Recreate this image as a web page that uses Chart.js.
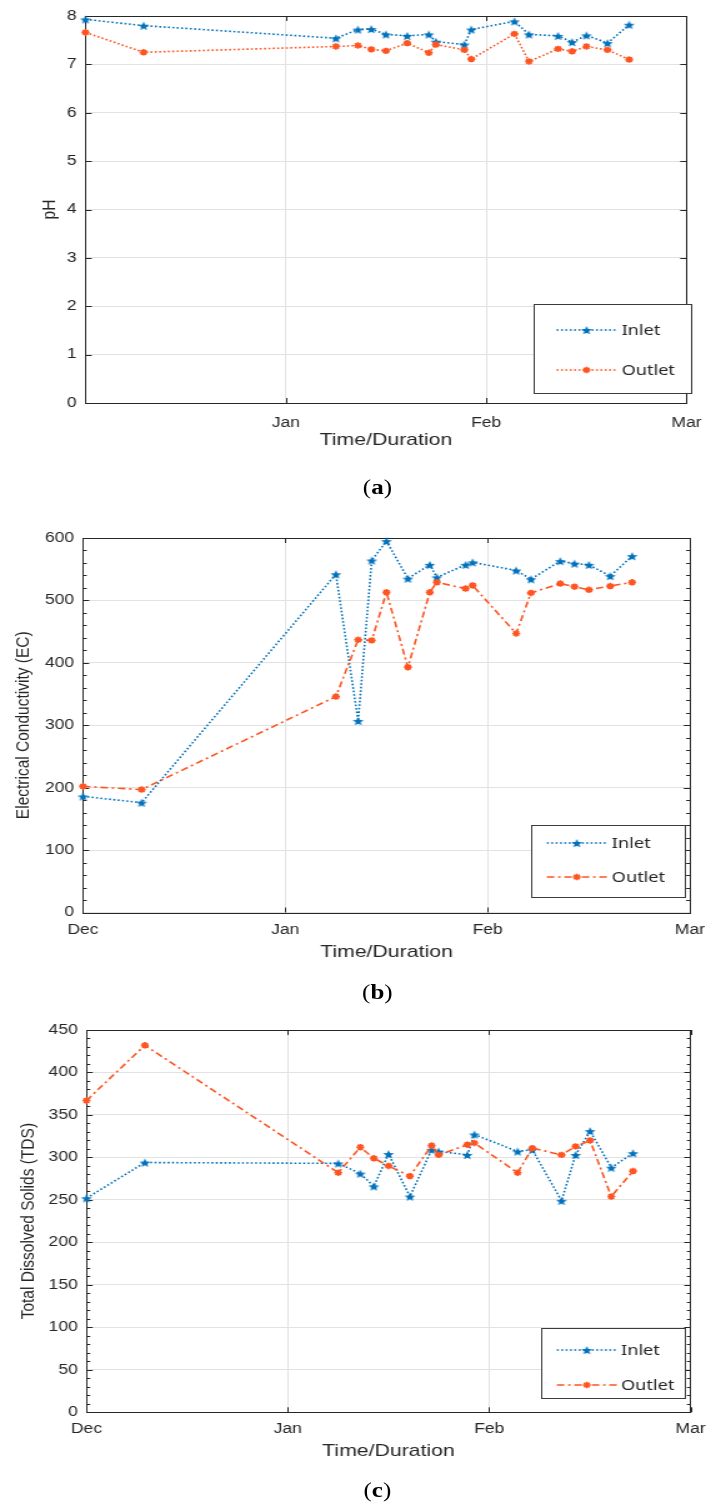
<!DOCTYPE html>
<html>
<head>
<meta charset="utf-8">
<title>Inlet / Outlet water quality</title>
<script src="https://cdn.jsdelivr.net/npm/chart.js@4.4.1/dist/chart.umd.min.js"></script>
<style>
  html, body { margin: 0; padding: 0; background: #fff; }
  body { width: 716px; height: 1504px; overflow: hidden; position: relative; }
  /* the reference figure is stretched sideways, so draw narrow and scale up */
  #figure { position: absolute; left: 0; top: 0; width: 573px; height: 1504px;
            transform: scaleX(1.2496); transform-origin: 0 0; }
  .panel { position: absolute; left: 0; width: 573px; height: 460px; }
  .caption { position: absolute; width: 100px; text-align: center; color: #000;
             font: 20px 'Liberation Serif', 'DejaVu Serif', serif; line-height: 24px; }
</style>
</head>
<body>
<div id="figure">
  <div class="panel" style="top:0px"><canvas id="phChart"></canvas></div>
  <div class="caption" style="left:252px; top:475px">(<b>a</b>)</div>
  <div class="panel" style="top:520px"><canvas id="ecChart"></canvas></div>
  <div class="caption" style="left:252px; top:980px">(<b>b</b>)</div>
  <div class="panel" style="top:1012px"><canvas id="tdsChart"></canvas></div>
  <div class="caption" style="left:252px; top:1478px">(<b>c</b>)</div>
</div>
<script>
// sampling times, in months after 1 Dec (Dec = 0, Jan = 1, Feb = 2, Mar = 3)
const sampleTimes = [0, 0.29, 1.25, 1.36, 1.427, 1.50, 1.606, 1.714, 1.749,
                     1.891, 1.926, 2.141, 2.214, 2.359, 2.429, 2.501, 2.606, 2.714];
const monthLabels = ['Dec', 'Jan', 'Feb', 'Mar'];
const phMonthLabels = ['', 'Jan', 'Feb', 'Mar'];

const phInlet   = [7.93, 7.80, 7.54, 7.72, 7.73, 7.62, 7.59, 7.62, 7.47, 7.41, 7.72, 7.89, 7.62, 7.59, 7.46, 7.60, 7.44, 7.82];
const phOutlet  = [7.66, 7.25, 7.37, 7.39, 7.31, 7.28, 7.44, 7.24, 7.41, 7.30, 7.11, 7.63, 7.06, 7.32, 7.27, 7.37, 7.30, 7.10];

const ecInlet   = [186, 176, 542, 307, 564, 595, 535, 557, 537, 557, 561, 548, 534, 563, 559, 557, 539, 571];
const ecOutlet  = [202, 197, 346, 437, 436, 513, 393, 513, 529, 519, 524, 447, 512, 527, 522, 517, 523, 529];

const tdsInlet  = [252, 294, 293, 281, 266, 304, 254, 309, 307, 303, 327, 307, 309, 249, 303, 331, 288, 305];
const tdsOutlet = [367, 432, 282, 312, 299, 290, 278, 314, 303, 315, 317, 282, 311, 303, 313, 320, 254, 284];

const inletColor = '#0072bd';
const outletColor = '#ff5420';
const axisColor = '#262626';

Chart.defaults.font.family = "'Liberation Sans', Arial, sans-serif";
Chart.defaults.color = axisColor;

// filled five point star, like the matlab pentagram marker
function starImage(color, r) {
    const c = document.createElement('canvas');
    const s = Math.ceil(r * 2 + 2);
    c.width = s;
    c.height = s;
    const g = c.getContext('2d');
    g.fillStyle = color;
    g.beginPath();
    for (let i = 0; i < 10; i++) {
        const rad = i % 2 ? r * 0.45 : r;
        const ang = -Math.PI / 2 + i * Math.PI / 5;
        g.lineTo(s / 2 + rad * Math.cos(ang), s / 2 + 0.6 + rad * Math.sin(ang));
    }
    g.closePath();
    g.fill();
    return c;
}
const inletStar = starImage(inletColor, 4.6);

function toPoints(xs, ys) {
    return xs.map((x, i) => ({ x: x, y: ys[i] }));
}

// box round the plot, inward tick marks and a matlab style legend
const matlabAxes = {
    id: 'matlabAxes',
    beforeDatasetsDraw(chart, args, opts) {
        const { ctx, chartArea: a, scales: { x, y } } = chart;
        ctx.save();
        ctx.strokeStyle = axisColor;
        ctx.lineWidth = 1;
        ctx.beginPath();
        y.ticks.forEach(t => {
            const py = Math.round(y.getPixelForValue(t.value)) + 0.5;
            ctx.moveTo(a.left, py); ctx.lineTo(a.left + 5, py);
            ctx.moveTo(a.right, py); ctx.lineTo(a.right - 5, py);
        });
        if (opts.minorStep) {
            for (let v = 0; v <= y.max; v += opts.minorStep) {
                const py = Math.round(y.getPixelForValue(v)) + 0.5;
                ctx.moveTo(a.left, py); ctx.lineTo(a.left + 3, py);
                ctx.moveTo(a.right, py); ctx.lineTo(a.right - 3, py);
            }
        }
        x.ticks.forEach(t => {
            const px = Math.round(x.getPixelForValue(t.value)) + 0.5;
            ctx.moveTo(px, a.top); ctx.lineTo(px, a.top + 5);
            ctx.moveTo(px, a.bottom); ctx.lineTo(px, a.bottom - 5);
        });
        ctx.stroke();
        ctx.strokeRect(Math.round(a.left) + 0.5, Math.round(a.top) + 0.5,
                       Math.round(a.right - a.left), Math.round(a.bottom - a.top));
        ctx.restore();
    },
    afterDraw(chart, args, opts) {
        const lg = opts.legend;
        const ctx = chart.ctx;
        ctx.save();
        ctx.fillStyle = '#fff';
        ctx.fillRect(lg.box[0], lg.box[1], lg.box[2], lg.box[3]);
        ctx.strokeStyle = '#3a3a3a';
        ctx.lineWidth = 1;
        ctx.strokeRect(lg.box[0] + 0.5, lg.box[1] + 0.5, lg.box[2], lg.box[3]);
        chart.data.datasets.forEach((ds, i) => {
            const ry = lg.rows[i];
            ctx.strokeStyle = ds.borderColor;
            ctx.lineWidth = ds.borderWidth;
            ctx.setLineDash(ds.borderDash);
            ctx.beginPath();
            ctx.moveTo(lg.lineX[0], ry);
            ctx.lineTo(lg.lineX[1], ry);
            ctx.stroke();
            ctx.setLineDash([]);
            ctx.fillStyle = ds.pointBackgroundColor;
            ctx.strokeStyle = ds.pointBorderColor;
            ctx.lineWidth = ds.pointBorderWidth;
            Chart.helpers.drawPoint(ctx, {
                pointStyle: ds.pointStyle, radius: ds.pointRadius,
                borderWidth: ds.pointBorderWidth, rotation: 0
            }, (lg.lineX[0] + lg.lineX[1]) / 2, ry);
            ctx.fillStyle = axisColor;
            ctx.font = "14.5px 'Noto Sans', 'Liberation Sans', sans-serif";
            ctx.textBaseline = 'middle';
            ctx.textAlign = 'left';
            ctx.fillText(ds.label, lg.textX, ry + 1);
        });
        ctx.restore();
    }
};

function makeChart(id, p) {
    const inlet = {
        label: 'Inlet',
        data: toPoints(sampleTimes, p.inlet),
        borderColor: inletColor,
        borderWidth: 1.6,
        borderDash: [1.6, 1.9],
        pointStyle: inletStar,
        pointRadius: 4,
        pointBorderWidth: 1,
        pointBackgroundColor: inletColor,
        pointBorderColor: inletColor,
        order: 1,
        clip: false
    };
    const outlet = {
        label: 'Outlet',
        data: toPoints(sampleTimes, p.outlet),
        borderColor: outletColor,
        borderWidth: 1.6,
        borderDash: p.outletDash,
        pointStyle: 'star',
        pointRadius: 3.2,
        pointBorderWidth: 1.7,
        pointBackgroundColor: outletColor,
        pointBorderColor: outletColor,
        order: 0,
        clip: false
    };
    return new Chart(document.getElementById(id), {
        type: 'line',
        data: { datasets: [inlet, outlet] },
        plugins: [matlabAxes],
        options: {
            responsive: true,
            maintainAspectRatio: false,
            animation: false,
            events: [],
            layout: { padding: { top: p.plotTop, right: 573 - p.plotRight, left: 0, bottom: 0 } },
            scales: {
                x: {
                    type: 'linear',
                    min: 0,
                    max: 3,
                    afterFit: s => { s.height = 460 - p.plotBottom; },
                    grid: { color: '#e2e2e2', drawTicks: false },
                    border: { display: false },
                    ticks: {
                        stepSize: 1,
                        maxRotation: 0,
                        padding: p.xTickPad,
                        font: { size: 14 },
                        callback: v => p.months[v] ?? ''
                    },
                    title: {
                        display: true,
                        text: 'Time/Duration',
                        font: { size: 17 },
                        padding: { top: 0, bottom: p.xTitlePad }
                    }
                },
                y: {
                    min: 0,
                    max: p.yMax,
                    afterFit: s => { s.width = p.plotLeft; },
                    grid: { color: '#e2e2e2', drawTicks: false },
                    border: { display: false },
                    ticks: { stepSize: p.yStep, padding: 7, font: { size: 14 } },
                    title: {
                        display: true,
                        text: p.yTitle,
                        font: { size: 15.5 },
                        padding: { top: p.yTitlePad, bottom: 0 }
                    }
                }
            },
            plugins: {
                legend: { display: false },
                tooltip: { enabled: false },
                matlabAxes: { minorStep: p.minorStep, legend: p.legend }
            }
        }
    });
}

window.onload = function() {
    makeChart('phChart', {
        inlet: phInlet, outlet: phOutlet, outletDash: [1.6, 1.9],
        months: phMonthLabels, yMax: 8, yStep: 1, minorStep: 0,
        yTitle: 'pH',
        plotTop: 16, plotBottom: 403, plotLeft: 68.4, plotRight: 558,
        xTickPad: 11.6, xTitlePad: 9.8, yTitlePad: 30.7,
        legend: { box: [427, 304, 126, 89], rows: [330, 370], lineX: [445.4, 493.4], textX: 497.4 }
    });
    makeChart('ecChart', {
        inlet: ecInlet, outlet: ecOutlet, outletDash: [6, 3, 2, 3],
        months: monthLabels, yMax: 600, yStep: 100, minorStep: 20,
        yTitle: 'Electrical Conductivity (EC)',
        plotTop: 18, plotBottom: 392.5, plotLeft: 66.4, plotRight: 560,
        xTickPad: 8.8, xTitlePad: 17.8, yTitlePad: 9.1,
        legend: { box: [425, 305, 123, 72], rows: [323, 357], lineX: [437.6, 485.6], textX: 489.6 }
    });
    makeChart('tdsChart', {
        inlet: tdsInlet, outlet: tdsOutlet, outletDash: [6, 3, 2, 3],
        months: monthLabels, yMax: 450, yStep: 50, minorStep: 10,
        yTitle: 'Total Dissolved Solids (TDS)',
        plotTop: 18, plotBottom: 400.3, plotLeft: 69.2, plotRight: 556,
        xTickPad: 8.3, xTitlePad: 10.8, yTitlePad: 13.9,
        legend: { box: [433, 316, 115, 70], rows: [338, 373], lineX: [445.6, 493.6], textX: 497 }
    });
};
</script>
</body>
</html>
